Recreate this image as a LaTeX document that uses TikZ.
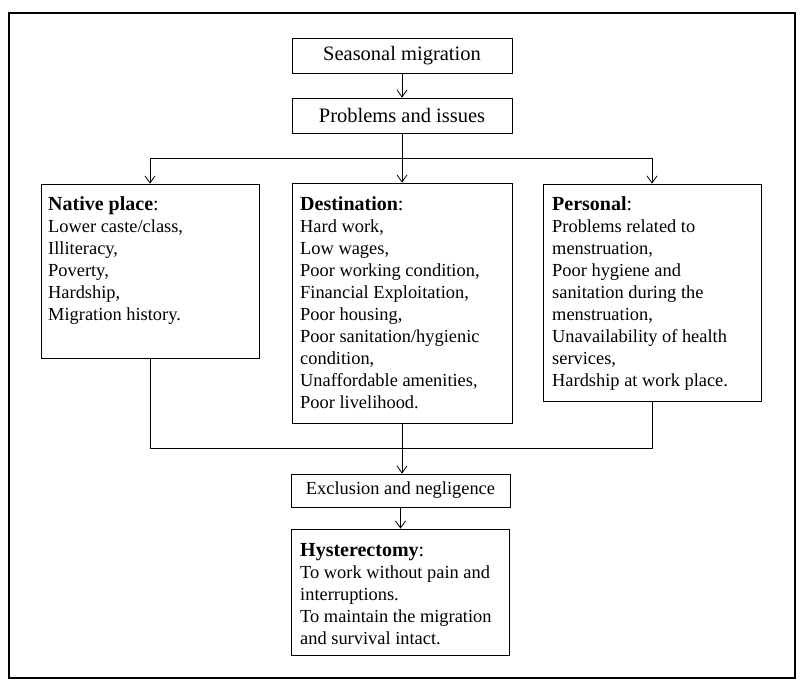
\documentclass[tikz,border=0pt]{standalone}
\usepackage{fontspec}
\setmainfont{Liberation Serif}
\usetikzlibrary{arrows.meta}
\begin{document}
\begin{tikzpicture}[x=1pt,y=-1pt,
  box/.style={draw, line width=0.8pt, inner sep=0pt},
  body/.style={inner sep=0pt, anchor=north west, align=left, font=\fontsize{18.4}{22}\selectfont},
  hdr/.style={font=\fontsize{20}{22}\selectfont\bfseries},
  arr/.style={-{Straight Barb[length=7pt,width=10pt]}, line width=0.8pt},
  conn/.style={line width=0.8pt}]
\useasboundingbox (0,0) rectangle (808,691);
\draw[line width=1.2pt] (9,13) rectangle (795,678);

\node[box, minimum width=220, minimum height=35, font=\fontsize{20.5}{24}\selectfont] (sm) at (402,55.5) {Seasonal migration};
\node[box, minimum width=220, minimum height=35, font=\fontsize{20.5}{24}\selectfont] (pi) at (402,115.5) {Problems and issues};

\node[box, minimum width=218, minimum height=174] (native) at (150,271) {};
\node[box, minimum width=220, minimum height=240] (dest) at (402,303) {};
\node[box, minimum width=218, minimum height=217] (pers) at (652,292.5) {};
\node[box, minimum width=219, minimum height=33, font=\fontsize{18.4}{22}\selectfont] (excl) at (400.5,490.5) {Exclusion and negligence};
\node[box, minimum width=218, minimum height=126] (hyst) at (400,592) {};

\node[body] (nativetxt) at (48,196) {{\fontsize{20}{22}\selectfont\textbf{Native place}:}\\
Lower caste/class,\\ Illiteracy,\\ Poverty,\\ Hardship,\\ Migration history.};
\node[body] (desttxt) at (300,196) {{\fontsize{20}{22}\selectfont\textbf{Destination}:}\\
Hard work,\\ Low wages,\\ Poor working condition,\\ Financial Exploitation,\\ Poor housing,\\ Poor sanitation/hygienic\\ condition,\\ Unaffordable amenities,\\ Poor livelihood.};
\node[body] (perstxt) at (552,196) {{\fontsize{20}{22}\selectfont\textbf{Personal}:}\\
Problems related to\\ menstruation,\\ Poor hygiene and\\ sanitation during the\\ menstruation,\\ Unavailability of health\\ services,\\ Hardship at work place.};
\node[body] (hysttxt) at (300,543) {{\fontsize{20}{22}\selectfont\textbf{Hysterectomy}:}\\
To work without pain and\\ interruptions.\\ To maintain the migration\\ and survival intact.};

\coordinate (split) at (402,158);
\coordinate (join) at (402,448);

\draw[arr] (sm) -- (pi);
\draw[conn] (pi.south) -- (split);
\draw[conn] (native.north |- split) -- (pers.north |- split);
\draw[arr] (native.north |- split) -- (native.north);
\draw[arr] (split) -- (dest.north);
\draw[arr] (pers.north |- split) -- (pers.north);
\draw[conn] (native.south) -- (native.south |- join) -- (pers.south |- join) -- (pers.south);
\draw[arr] (dest.south) -- (dest.south |- excl.north);
\draw[arr] (excl.south) -- (excl.south |- hyst.north);
\end{tikzpicture}
\end{document}
